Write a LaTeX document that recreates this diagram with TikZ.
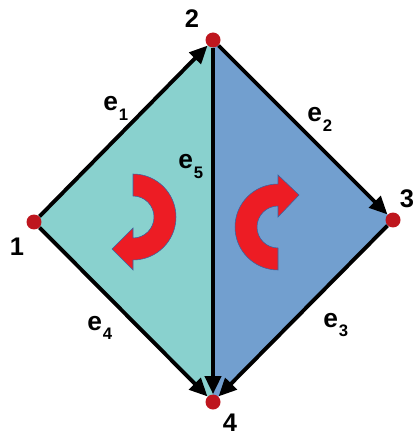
\documentclass[tikz,border=0pt]{standalone}
\usepackage{fontspec}
\setmainfont{Liberation Sans}
\usepackage{xcolor}
\usepackage{tikz}
\usetikzlibrary{arrows.meta, backgrounds}

\definecolor{leftface}{RGB}{137,209,206}
\definecolor{rightface}{RGB}{114,159,207}
\definecolor{turnred}{RGB}{237,28,36}
\definecolor{turnedge}{RGB}{52,101,164}
\definecolor{dotred}{RGB}{190,22,30}

% edge name with lowered index
\newcommand{\ename}[1]{e\kern0.5pt\raisebox{-5.5pt}{\fontsize{9.5}{10}\selectfont\bfseries #1}}

\begin{document}
\begin{tikzpicture}[
    x=0.02cm, y=-0.02cm,
    vertex/.style={circle, fill=dotred, inner sep=0pt, minimum size=0.3cm},
    edge/.style={-{Triangle[length=0.36cm, width=0.32cm]}, line width=2.2pt, black},
    numlabel/.style={inner sep=0pt, font=\fontsize{14.5}{15}\selectfont\bfseries},
    elabel/.style={inner sep=0pt, anchor=base west, font=\fontsize{15}{15}\selectfont\bfseries},
    turn/.style={fill=turnred, draw=turnedge, line width=0.3pt},
]
\useasboundingbox (0,0) rectangle (416,435);

% Vertices
\node[vertex] (v1) at (34,222)  {};
\node[vertex] (v2) at (213,40)  {};
\node[vertex] (v3) at (393,220) {};
\node[vertex] (v4) at (213,402) {};

\node[numlabel] (n1) at (17,247)  {1};
\node[numlabel] (n2) at (192,19)  {2};
\node[numlabel] (n3) at (407,199) {3};
\node[numlabel] (n4) at (230,423) {4};

% Two faces
\begin{scope}[on background layer]
\fill[leftface]  (v1.center) -- (v2.center) -- (v4.center) -- cycle;
\fill[rightface] (v2.center) -- (v3.center) -- (v4.center) -- cycle;
\end{scope}

% Orientation of the faces
\draw[turn] (133,174) arc[start angle=-90, end angle=90, radius=43]
    -- (133,270) -- (112,249) -- (133,228) -- (133,238)
    arc[start angle=90, end angle=-90, radius=21] -- cycle;
\draw[turn] (278,270) arc[start angle=90, end angle=270, radius=43]
    -- (278,175) -- (299,195) -- (278,217) -- (278,206)
    arc[start angle=270, end angle=90, radius=21] -- cycle;

% Directed edges
\draw[edge] (v1) -- (v2);
\draw[edge] (v2) -- (v3);
\draw[edge] (v3) -- (v4);
\draw[edge] (v1) -- (v4);
\draw[edge] (v2) -- (v4);

\node[elabel] (e1) at (103,111) {\ename{1}};
\node[elabel] (e2) at (307,122) {\ename{2}};
\node[elabel] (e3) at (323,327) {\ename{3}};
\node[elabel] (e4) at (87,330)  {\ename{4}};
\node[elabel] (e5) at (178,169) {\ename{5}};

\end{tikzpicture}
\end{document}
